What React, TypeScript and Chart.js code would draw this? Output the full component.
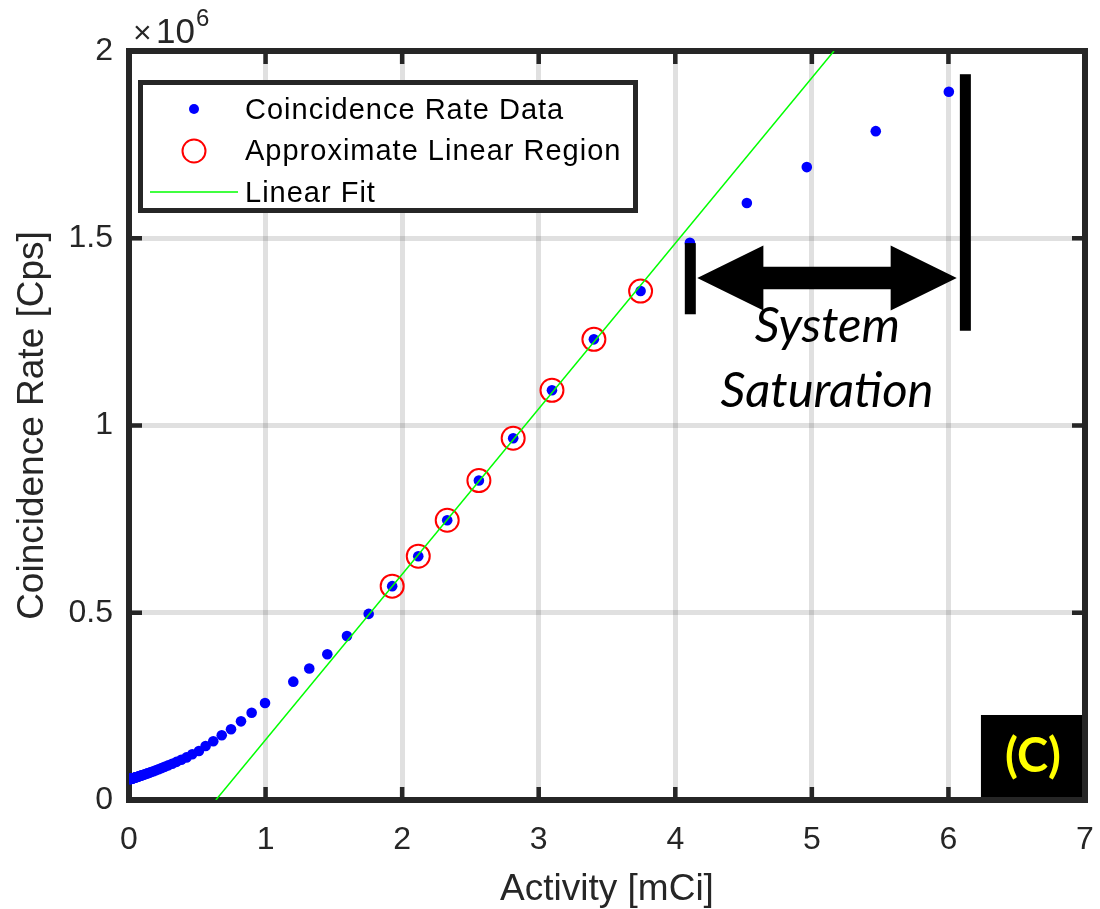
import React, { useEffect, useRef } from "react";
import { Chart, registerables } from "chart.js";

Chart.register(...registerables);

// ---------- data ----------
const activity = [
  0.008, 0.01, 0.011, 0.012, 0.013, 0.015, 0.016, 0.018, 0.02, 0.022, 0.024, 0.026,
  0.029, 0.032, 0.035, 0.039, 0.043, 0.047, 0.052, 0.057, 0.063, 0.069, 0.076, 0.083,
  0.092, 0.101, 0.111, 0.122, 0.134, 0.148, 0.162, 0.179, 0.197, 0.216, 0.238, 0.261,
  0.288, 0.316, 0.348, 0.383, 0.421, 0.463, 0.512, 0.561, 0.617, 0.679, 0.747, 0.82,
  0.898, 0.996, 1.203, 1.32, 1.452, 1.596, 1.755, 1.927, 2.118, 2.33, 2.562, 2.813,
  3.097, 3.404, 3.746, 4.107, 4.524, 4.963, 5.468, 6.003,
];
const coincidenceRate = [
  55900, 56100, 56200, 56300, 56400, 56700, 56800, 57000, 57200, 57400, 57700, 57900,
  58200, 58600, 58900, 59400, 59900, 60300, 60900, 61500, 62200, 62900, 63800, 64600,
  65700, 66800, 68100, 69500, 71000, 72800, 74700, 76900, 79400, 82000, 85200, 88500,
  92500, 96800, 101800, 107400, 113700, 122000, 131000, 144000, 157000, 173000, 189000, 210000,
  233000, 259000, 316000, 351000, 389000, 438000, 497000, 571000, 651000, 747000, 853000, 966000,
  1094000, 1230000, 1359000, 1488000, 1594000, 1690000, 1786000, 1891000,
];
const linearActivity = [1.927, 2.118, 2.33, 2.562, 2.813, 3.097, 3.404, 3.746];
const linearRate = [571000, 651000, 747000, 853000, 966000, 1094000, 1230000, 1359000];
const fitActivity = [0.636, 5.162];
const fitRate = [0, 2000000];

const xTicks = [0, 1, 2, 3, 4, 5, 6, 7];
const yTicks = [0, 500000, 1000000, 1500000, 2000000];

const legendLabels = ["Coincidence Rate Data", "Approximate Linear Region", "Linear Fit"];
const xTitle = "Activity [mCi]";
const yTitle = "Coincidence Rate [Cps]";
const exponentBase = "10";
const exponentTimes = "\u00d7";
const exponentPower = "6";
const annotationLines = ["System", "Saturation"];
const panelLabel = "(C)";

// annotation geometry, in data units
const satLeftBar = { x: 4.11, y0: 1297000, y1: 1487000 };
const satRightBar = { x: 6.124, y0: 1253000, y1: 1938000 };
const satArrow = { x0: 4.161, x1: 6.061, y: 1394000, headLen: 0.484, headHalf: 86800, shaftHalf: 30000 };
const satText = [
  { x: 5.114, y: 1223500 },
  { x: 5.111, y: 1050000 },
];
const panelBox = { x0: 6.238, x1: 7.0, y0: 8000, y1: 227000 };
const panelTextPos = { x: 6.619, y: 115000 };

const SANS = '"Liberation Sans", Arial, Helvetica, sans-serif';
const AXIS = "#262626";

const decorPlugin = {
  id: "decor",
  beforeDatasetsDraw(chart: any) {
    const { ctx, chartArea: a, scales } = chart;
    const x = scales.x;
    const y = scales.y;
    ctx.save();
    // panel label box
    ctx.fillStyle = "#000000";
    const bx0 = x.getPixelForValue(panelBox.x0);
    const bx1 = x.getPixelForValue(panelBox.x1);
    const by0 = y.getPixelForValue(panelBox.y1);
    const by1 = y.getPixelForValue(panelBox.y0);
    ctx.fillRect(bx0, by0, bx1 - bx0, by1 - by0);

    // axes frame
    ctx.strokeStyle = AXIS;
    ctx.lineWidth = 6;
    ctx.strokeRect(a.left, a.top, a.right - a.left, a.bottom - a.top);

    // inward tick marks
    ctx.lineWidth = 4.5;
    ctx.beginPath();
    for (const v of xTicks.slice(1, -1)) {
      const px = x.getPixelForValue(v);
      ctx.moveTo(px, a.bottom);
      ctx.lineTo(px, a.bottom - 13);
      ctx.moveTo(px, a.top);
      ctx.lineTo(px, a.top + 13);
    }
    for (const v of yTicks.slice(1, -1)) {
      const py = y.getPixelForValue(v);
      ctx.moveTo(a.left, py);
      ctx.lineTo(a.left + 13, py);
      ctx.moveTo(a.right, py);
      ctx.lineTo(a.right - 13, py);
    }
    ctx.stroke();
    ctx.restore();
  },
  afterDatasetsDraw(chart: any) {
    const { ctx, chartArea: a, scales } = chart;
    const x = scales.x;
    const y = scales.y;
    ctx.save();

    // exponent label
    ctx.fillStyle = AXIS;
    ctx.textBaseline = "alphabetic";
    ctx.textAlign = "left";
    ctx.font = `32px ${SANS}`;
    ctx.fillText(exponentTimes, a.left + 4, a.top - 8);
    ctx.font = `35px ${SANS}`;
    ctx.fillText(exponentBase, a.left + 27, a.top - 8);
    ctx.font = `24px ${SANS}`;
    ctx.fillText(exponentPower, a.left + 67, a.top - 25);

    // saturation bars
    ctx.fillStyle = "#000000";
    const barW = 11;
    for (const b of [satLeftBar, satRightBar]) {
      const px = x.getPixelForValue(b.x);
      const p0 = y.getPixelForValue(b.y1);
      const p1 = y.getPixelForValue(b.y0);
      ctx.fillRect(px - barW / 2, p0, barW, p1 - p0);
    }
    // double arrow
    const ax0 = x.getPixelForValue(satArrow.x0);
    const ax1 = x.getPixelForValue(satArrow.x1);
    const hl = x.getPixelForValue(satArrow.x0 + satArrow.headLen) - ax0;
    const ay = y.getPixelForValue(satArrow.y);
    const hh = y.getPixelForValue(0) - y.getPixelForValue(satArrow.headHalf);
    const sh = y.getPixelForValue(0) - y.getPixelForValue(satArrow.shaftHalf);
    ctx.beginPath();
    ctx.moveTo(ax0, ay);
    ctx.lineTo(ax0 + hl, ay - hh);
    ctx.lineTo(ax0 + hl, ay - sh);
    ctx.lineTo(ax1 - hl, ay - sh);
    ctx.lineTo(ax1 - hl, ay - hh);
    ctx.lineTo(ax1, ay);
    ctx.lineTo(ax1 - hl, ay + hh);
    ctx.lineTo(ax1 - hl, ay + sh);
    ctx.lineTo(ax0 + hl, ay + sh);
    ctx.lineTo(ax0 + hl, ay + hh);
    ctx.closePath();
    ctx.fill();

    // saturation text
    ctx.font = `italic 49px Lato, "Open Sans", sans-serif`;
    ctx.textAlign = "center";
    ctx.textBaseline = "alphabetic";
    ctx.fillStyle = "#000000";
    annotationLines.forEach((t, i) => {
      ctx.fillText(t, x.getPixelForValue(satText[i].x), y.getPixelForValue(satText[i].y));
    });

    // panel label text
    ctx.font = `bold 47px Lato, "Open Sans", sans-serif`;
    ctx.fillStyle = "#ffff00";
    ctx.textBaseline = "middle";
    ctx.fillText(panelLabel, x.getPixelForValue(panelTextPos.x), y.getPixelForValue(panelTextPos.y));

    // legend
    const L = { x0: 140.5, y0: 82.5, x1: 635.5, y1: 210.5 };
    ctx.fillStyle = "#ffffff";
    ctx.fillRect(L.x0, L.y0, L.x1 - L.x0, L.y1 - L.y0);
    ctx.strokeStyle = AXIS;
    ctx.lineWidth = 5;
    ctx.strokeRect(L.x0, L.y0, L.x1 - L.x0, L.y1 - L.y0);
    const rows = [109, 151, 192];
    const ds = chart.data.datasets;
    // dot
    ctx.fillStyle = ds[2].backgroundColor;
    ctx.beginPath();
    ctx.arc(194, rows[0], 5, 0, Math.PI * 2);
    ctx.fill();
    // circle
    ctx.strokeStyle = ds[1].borderColor;
    ctx.lineWidth = 2;
    ctx.beginPath();
    ctx.arc(194, rows[1], 11.5, 0, Math.PI * 2);
    ctx.stroke();
    // line
    ctx.strokeStyle = ds[0].borderColor;
    ctx.lineWidth = 1.5;
    ctx.beginPath();
    ctx.moveTo(150, rows[2]);
    ctx.lineTo(238, rows[2]);
    ctx.stroke();
    // texts
    ctx.fillStyle = "#000000";
    ctx.font = `29px ${SANS}`;
    ctx.textAlign = "left";
    ctx.textBaseline = "alphabetic";
    (ctx as any).letterSpacing = "1px";
    const baselines = [118.5, 160, 202];
    legendLabels.forEach((t, i) => ctx.fillText(t, 245, baselines[i]));
    ctx.restore();
  },
};

export default function App() {
  const ref = useRef<HTMLCanvasElement | null>(null);
  useEffect(() => {
    document.body.style.margin = "0";
    const canvas = ref.current;
    if (!canvas) return;
    const pts = (xs: number[], ys: number[]) => xs.map((v, i) => ({ x: v, y: ys[i] }));
    const chart = new Chart(canvas, {
      type: "scatter",
      data: {
        datasets: [
          {
            label: legendLabels[2],
            data: pts(fitActivity, fitRate),
            showLine: true,
            borderColor: "#00ff00",
            borderWidth: 1.5,
            pointRadius: 0,
            order: 0,
          },
          {
            label: legendLabels[1],
            data: pts(linearActivity, linearRate),
            pointRadius: 11.5,
            pointBorderWidth: 2,
            borderColor: "#ff0000",
            backgroundColor: "rgba(0,0,0,0)",
            order: 1,
          },
          {
            label: legendLabels[0],
            data: pts(activity, coincidenceRate),
            pointRadius: 5.3,
            borderWidth: 0,
            pointBorderWidth: 0,
            backgroundColor: "#0000ff",
            borderColor: "#0000ff",
            order: 2,
          },
        ],
      },
      options: {
        responsive: false,
        animation: false,
        events: [],
        layout: { padding: { top: 51, right: 15, left: 0, bottom: 0 } },
        plugins: { legend: { display: false }, tooltip: { enabled: false } },
        scales: {
          x: {
            type: "linear",
            min: 0,
            max: 7,
            afterBuildTicks: (s: any) => {
              s.ticks = xTicks.map((v) => ({ value: v }));
            },
            ticks: {
              font: { family: SANS, size: 32 },
              color: AXIS,
              padding: 21,
              maxRotation: 0,
              autoSkip: false,
            },
            grid: { color: "rgba(0,0,0,0.12)", lineWidth: 5, drawTicks: false },
            border: { display: false },
            title: {
              display: true,
              text: xTitle,
              font: { family: SANS, size: 37 },
              color: AXIS,
              padding: { top: 0, bottom: -3 },
            },
            afterFit: (s: any) => {
              s.height = 109;
              s.paddingLeft = 0;
              s.paddingRight = 0;
            },
          },
          y: {
            type: "linear",
            min: 0,
            max: 2000000,
            afterBuildTicks: (s: any) => {
              s.ticks = yTicks.map((v) => ({ value: v }));
            },
            ticks: {
              font: { family: SANS, size: 32 },
              color: AXIS,
              padding: 16,
              autoSkip: false,
              callback: (v: any) => String(Number(v) / 1e6),
            },
            grid: { color: "rgba(0,0,0,0.12)", lineWidth: 5, drawTicks: false },
            border: { display: false },
            title: {
              display: true,
              text: yTitle,
              font: { family: SANS, size: 37 },
              color: AXIS,
              padding: { top: 11, bottom: 0 },
            },
            afterFit: (s: any) => {
              s.width = 129;
              s.paddingTop = 0;
              s.paddingBottom = 0;
            },
          },
        },
      },
      plugins: [decorPlugin],
    } as any);
    return () => chart.destroy();
  }, []);
  return (
    <div style={{ width: 1100, height: 909, overflow: "hidden", background: "#ffffff" }}>
      <canvas ref={ref} width={1100} height={909} style={{ display: "block" }} />
    </div>
  );
}
